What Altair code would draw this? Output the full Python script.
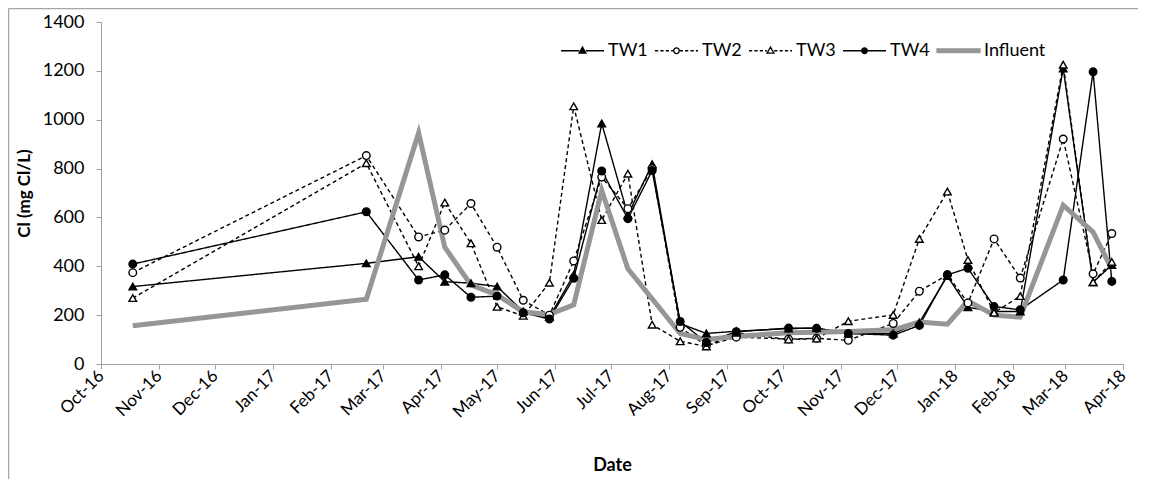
import altair as alt
import pandas as pd

# ---------------- data ----------------
dates = ["2016-10-18", "2017-02-20", "2017-03-20", "2017-04-03", "2017-04-17",
         "2017-05-01", "2017-05-15", "2017-05-29", "2017-06-11", "2017-06-26",
         "2017-07-10", "2017-07-23", "2017-08-07", "2017-08-21", "2017-09-06",
         "2017-10-04", "2017-10-19", "2017-11-05", "2017-11-29", "2017-12-13",
         "2017-12-28", "2018-01-08", "2018-01-22", "2018-02-05", "2018-02-28",
         "2018-03-16", "2018-03-26"]
tw1 = [317, 412, 439, 337, 331, 317, 215, 192, 365, 985, 610, 818, 165, 125, 134,
       145, 147, 125, 125, 170, 360, 232, 215, 215, 1210, 335, 405]
tw2 = [374, 853, 520, 548, 657, 478, 261, 200, 422, 765, 636, 800, 150, 75, 110,
       102, 105, 97, 166, 298, 365, 250, 512, 352, 921, 369, 534]
tw3 = [270, 822, 400, 661, 494, 234, 197, 333, 1055, 589, 779, 161, 93, 72, 128,
       100, 104, 175, 201, 512, 706, 426, 210, 278, 1225, 335, 418]
tw4 = [409, 623, 344, 365, 273, 278, 210, 184, 351, 790, 595, 792, 174, 88, 132,
       147, 146, 125, 118, 158, 365, 392, 235, 222, 344, 1196, 338]
influent_dates = [d for d in dates if d != "2017-07-23"]
influent = [157, 265, 946, 478, 324, 283, 213, 203, 242, 710, 390, 125, 100, 113,
            128, 130, 133, 140, 172, 163, 258, 200, 192, 650, 540, 388]

series_names = ["TW1", "TW2", "TW3", "TW4", "Influent"]
tw_names = ["TW1", "TW2", "TW3", "TW4"]

rows = []
for name, vals in zip(tw_names, [tw1, tw2, tw3, tw4]):
    for d, v in zip(dates, vals):
        rows.append({"date": d + "T00:00:00", "series": name, "value": v})
df_tw = pd.DataFrame(rows)
df_inf = pd.DataFrame({"date": [d + "T00:00:00" for d in influent_dates],
                       "series": "Influent", "value": influent})

FONT = "Lato"
GRAY_AX = "#a0a0a0"
INF_COL = "#969696"

# ---------------- legend symbols (line + marker paths) ----------------
def dashed(x0, x1, on=0.15, off=0.10):
    parts = []
    x = x0
    while x < x1 - 1e-6:
        e = min(x + on, x1)
        parts.append(f"M{x:.3f},0H{e:.3f}")
        x = e + off
    return "".join(parts)

r = 0.13
circle = f"M{r},0A{r},{r} 0 1,1 {-r},0A{r},{r} 0 1,1 {r},0Z"
tri = "M0,-0.17L0.16,0.11L-0.16,0.11Z"
leg_paths = [
    "M-1,0H-0.16M0.16,0H1" + tri,
    dashed(-1, -0.15) + dashed(0.15, 1) + circle,
    dashed(-1, -0.17) + dashed(0.17, 1) + tri,
    "M-1,0H-0.15M0.15,0H1" + circle,
    "M-1,-0.09H1V0.09H-1Z",
]

x_enc = alt.X(
    "date:T",
    title="Date",
    scale=alt.Scale(domain=[alt.DateTime(year=2016, month=10, date=1),
                            alt.DateTime(year=2018, month=4, date=1)]),
    axis=alt.Axis(
        format="%b-%y",
        values=[alt.DateTime(year=2016 + (9 + i) // 12, month=(9 + i) % 12 + 1, date=1)
                for i in range(19)],
        labelAngle=-45, labelAlign="right", labelBaseline="middle",
        labelPadding=4, grid=False, domainColor=GRAY_AX, tickColor=GRAY_AX,
        tickSize=5, labelFontSize=17, titleFontSize=18, titleFontWeight="bold",
        titlePadding=36,
    ),
)
y_enc = alt.Y(
    "value:Q",
    title="Cl (mg Cl/L)",
    scale=alt.Scale(domain=[0, 1400]),
    axis=alt.Axis(values=list(range(0, 1401, 200)), format="d", grid=False,
                  domainColor=GRAY_AX, tickColor=GRAY_AX, tickSize=5,
                  labelPadding=12, labelFontSize=18, titleFontSize=17,
                  titleFontWeight="bold", titlePadding=9),
)

lines = alt.Chart(df_tw).mark_line(color="black", strokeWidth=1.4).encode(
    x=x_enc, y=y_enc, detail="series:N",
    strokeDash=alt.StrokeDash("series:N", legend=None,
                              scale=alt.Scale(domain=tw_names,
                                              range=[[1, 0], [4, 3], [4, 3], [1, 0]])),
)

inf_line = alt.Chart(df_inf).mark_line(color=INF_COL, strokeWidth=5).encode(
    x="date:T", y="value:Q")

points = alt.Chart(df_tw).mark_point(size=58, strokeWidth=1.4, stroke="black",
                                     opacity=1).encode(
    x="date:T", y="value:Q",
    shape=alt.Shape("series:N", legend=None,
                    scale=alt.Scale(domain=tw_names,
                                    range=["triangle-up", "circle", "triangle-up", "circle"])),
    fill=alt.Fill("series:N", legend=None,
                  scale=alt.Scale(domain=tw_names,
                                  range=["black", "white", "white", "black"])),
)

legend_layer = alt.Chart(pd.DataFrame({"series": series_names})).transform_filter(
    "false").mark_point(size=1849, strokeWidth=1.3, opacity=1).encode(
    x="date:T", y="value:Q",
    shape=alt.Shape("series:N", scale=alt.Scale(domain=series_names, range=leg_paths),
                    legend=alt.Legend(orient="none", direction="horizontal",
                                      legendX=459, legendY=6, title=None,
                                      labelFont=FONT, labelFontSize=18,
                                      labelColor="black", symbolSize=1849,
                                      symbolStrokeWidth=1.3, labelOffset=3,
                                      columnPadding=4, symbolOpacity=1)),
    fill=alt.Fill("series:N", scale=alt.Scale(domain=series_names,
                                              range=["black", "white", "white", "black", INF_COL])),
    stroke=alt.Stroke("series:N", scale=alt.Scale(domain=series_names,
                                                  range=["black", "black", "black", "black", INF_COL])),
)

border_top = alt.Chart().mark_rule(color="#a6a6a6", strokeWidth=1.5).encode(
    x=alt.value(-92.5), x2=alt.value(1040), y=alt.value(-13.5))
border_left = alt.Chart().mark_rule(color="#a6a6a6", strokeWidth=1.5).encode(
    x=alt.value(-92.5), y=alt.value(-13.5), y2=alt.value(470))

chart = alt.layer(border_top, border_left, lines, inf_line, points, legend_layer).resolve_scale(
    shape="independent", fill="independent", stroke="independent",
    strokeDash="independent",
).properties(
    width=1022, height=342,
    autosize=alt.AutoSizeParams(type="none"),
    padding={"left": 93, "top": 14, "right": 15, "bottom": 115},
).configure(font=FONT).configure_view(stroke=None).configure_axis(
    labelFont=FONT, titleFont=FONT, labelColor="black", titleColor="black",
)

chart.save("out.html", embed_options={"renderer": "svg", "actions": False})
